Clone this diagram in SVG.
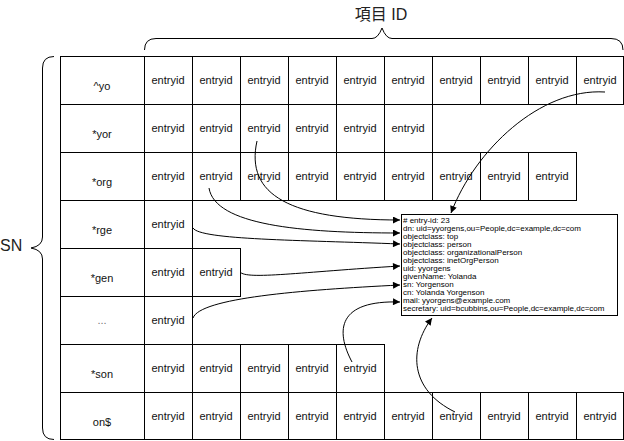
<svg xmlns="http://www.w3.org/2000/svg" width="624" height="441" viewBox="0 0 624 441">
<style>
.c{fill:#fff;stroke:#000;stroke-width:1}
.t{font-family:"Liberation Sans",Arial,sans-serif;font-size:11px;fill:#111;text-anchor:middle}
.e{font-family:"Liberation Sans",Arial,sans-serif;font-size:8px;fill:#000}
.br{fill:none;stroke:#000;stroke-width:1}
.cn{fill:none;stroke:#000;stroke-width:1;marker-end:url(#ah)}
</style>
<defs>
<marker id="ah" viewBox="0 0 10 10" refX="10" refY="5" markerWidth="10" markerHeight="7" markerUnits="userSpaceOnUse" orient="auto">
<path d="M0,0 L10,5 L0,10 Z" fill="#000"/>
</marker>
</defs>
<rect width="624" height="441" fill="#fff"/>

<g id="brace-top">
<path class="br" d="M144.5,50 Q144.5,38.5 156,38.5 L372,38.5 Q378,38.5 382,28 Q386,38.5 392,38.5 L611,38.5 Q623,38.5 623,50"/>
<text x="381" y="20" font-family="Liberation Sans,'Noto Sans CJK TC',sans-serif" font-size="16" fill="#222" text-anchor="middle">項目 ID</text>
</g>
<g id="brace-left">
<path class="br" d="M54,56.5 Q42.5,56.5 42.5,68 L42.5,237 Q42.5,246 31,248 Q42.5,250 42.5,259 L42.5,428 Q42.5,439.5 54,439.5"/>
<text x="0" y="251" font-family="Liberation Sans,sans-serif" font-size="16" fill="#222">SN</text>
</g>

<g id="row-yo">
<rect class="c" x="60.5" y="56.5" width="84" height="48"/>
<text class="t" x="102" y="90">^yo</text>
<rect class="c" x="144.5" y="56.5" width="48" height="48"/><rect class="c" x="192.5" y="56.5" width="48" height="48"/><rect class="c" x="240.5" y="56.5" width="48" height="48"/><rect class="c" x="288.5" y="56.5" width="48" height="48"/><rect class="c" x="336.5" y="56.5" width="48" height="48"/><rect class="c" x="384.5" y="56.5" width="48" height="48"/><rect class="c" x="432.5" y="56.5" width="48" height="48"/><rect class="c" x="480.5" y="56.5" width="48" height="48"/><rect class="c" x="528.5" y="56.5" width="48" height="48"/><rect class="c" x="576.5" y="56.5" width="47" height="48"/>
<text class="t" x="168" y="84">entryid</text><text class="t" x="216" y="84">entryid</text><text class="t" x="264" y="84">entryid</text><text class="t" x="312" y="84">entryid</text><text class="t" x="360" y="84">entryid</text><text class="t" x="408" y="84">entryid</text><text class="t" x="456" y="84">entryid</text><text class="t" x="504" y="84">entryid</text><text class="t" x="552" y="84">entryid</text><text class="t" x="600" y="84">entryid</text>
</g>

<g id="row-yor">
<rect class="c" x="60.5" y="104.5" width="84" height="48"/>
<text class="t" x="102" y="138">*yor</text>
<rect class="c" x="144.5" y="104.5" width="48" height="48"/><rect class="c" x="192.5" y="104.5" width="48" height="48"/><rect class="c" x="240.5" y="104.5" width="48" height="48"/><rect class="c" x="288.5" y="104.5" width="48" height="48"/><rect class="c" x="336.5" y="104.5" width="48" height="48"/><rect class="c" x="384.5" y="104.5" width="48" height="48"/>
<text class="t" x="168" y="132">entryid</text><text class="t" x="216" y="132">entryid</text><text class="t" x="264" y="132">entryid</text><text class="t" x="312" y="132">entryid</text><text class="t" x="360" y="132">entryid</text><text class="t" x="408" y="132">entryid</text>
</g>

<g id="row-org">
<rect class="c" x="60.5" y="152.5" width="84" height="48"/>
<text class="t" x="102" y="186">*org</text>
<rect class="c" x="144.5" y="152.5" width="48" height="48"/><rect class="c" x="192.5" y="152.5" width="48" height="48"/><rect class="c" x="240.5" y="152.5" width="48" height="48"/><rect class="c" x="288.5" y="152.5" width="48" height="48"/><rect class="c" x="336.5" y="152.5" width="48" height="48"/><rect class="c" x="384.5" y="152.5" width="48" height="48"/><rect class="c" x="432.5" y="152.5" width="48" height="48"/><rect class="c" x="480.5" y="152.5" width="48" height="48"/><rect class="c" x="528.5" y="152.5" width="48" height="48"/>
<text class="t" x="168" y="180">entryid</text><text class="t" x="216" y="180">entryid</text><text class="t" x="264" y="180">entryid</text><text class="t" x="312" y="180">entryid</text><text class="t" x="360" y="180">entryid</text><text class="t" x="408" y="180">entryid</text><text class="t" x="456" y="180">entryid</text><text class="t" x="504" y="180">entryid</text><text class="t" x="552" y="180">entryid</text>
</g>

<g id="row-rge">
<rect class="c" x="60.5" y="200.5" width="84" height="48"/>
<text class="t" x="102" y="234">*rge</text>
<rect class="c" x="144.5" y="200.5" width="48" height="48"/>
<text class="t" x="168" y="228">entryid</text>
</g>

<g id="row-gen">
<rect class="c" x="60.5" y="248.5" width="84" height="48"/>
<text class="t" x="102" y="282">*gen</text>
<rect class="c" x="144.5" y="248.5" width="48" height="48"/><rect class="c" x="192.5" y="248.5" width="48" height="48"/>
<text class="t" x="168" y="276">entryid</text><text class="t" x="216" y="276">entryid</text>
</g>

<g id="row-dots">
<rect class="c" x="60.5" y="296.5" width="84" height="48"/>
<text class="t" x="102" y="324" style="fill:#777">...</text>
<rect class="c" x="144.5" y="296.5" width="48" height="48"/>
<text class="t" x="168" y="324">entryid</text>
</g>

<g id="row-son">
<rect class="c" x="60.5" y="344.5" width="84" height="48"/>
<text class="t" x="102" y="378">*son</text>
<rect class="c" x="144.5" y="344.5" width="48" height="48"/><rect class="c" x="192.5" y="344.5" width="48" height="48"/><rect class="c" x="240.5" y="344.5" width="48" height="48"/><rect class="c" x="288.5" y="344.5" width="48" height="48"/><rect class="c" x="336.5" y="344.5" width="48" height="48"/>
<text class="t" x="168" y="372">entryid</text><text class="t" x="216" y="372">entryid</text><text class="t" x="264" y="372">entryid</text><text class="t" x="312" y="372">entryid</text><text class="t" x="360" y="372">entryid</text>
</g>

<g id="row-on">
<rect class="c" x="60.5" y="392.5" width="84" height="47"/>
<text class="t" x="102" y="426">on$</text>
<rect class="c" x="144.5" y="392.5" width="48" height="47"/><rect class="c" x="192.5" y="392.5" width="48" height="47"/><rect class="c" x="240.5" y="392.5" width="48" height="47"/><rect class="c" x="288.5" y="392.5" width="48" height="47"/><rect class="c" x="336.5" y="392.5" width="48" height="47"/><rect class="c" x="384.5" y="392.5" width="48" height="47"/><rect class="c" x="432.5" y="392.5" width="48" height="47"/><rect class="c" x="480.5" y="392.5" width="48" height="47"/><rect class="c" x="528.5" y="392.5" width="48" height="47"/><rect class="c" x="576.5" y="392.5" width="47" height="47"/>
<text class="t" x="168" y="420">entryid</text><text class="t" x="216" y="420">entryid</text><text class="t" x="264" y="420">entryid</text><text class="t" x="312" y="420">entryid</text><text class="t" x="360" y="420">entryid</text><text class="t" x="408" y="420">entryid</text><text class="t" x="456" y="420">entryid</text><text class="t" x="504" y="420">entryid</text><text class="t" x="552" y="420">entryid</text><text class="t" x="600" y="420">entryid</text>
</g>

<g id="entry">
<rect class="c" x="401.5" y="214.5" width="216" height="101"/>
<text class="e" x="403" y="223">
<tspan x="403" dy="0"># entry-id: 23</tspan>
<tspan x="403" dy="8">dn: uid=yyorgens,ou=People,dc=example,dc=com</tspan>
<tspan x="403" dy="8">objectclass: top</tspan>
<tspan x="403" dy="8">objectclass: person</tspan>
<tspan x="403" dy="8">objectclass: organizationalPerson</tspan>
<tspan x="403" dy="8">objectclass: inetOrgPerson</tspan>
<tspan x="403" dy="8">uid: yyorgens</tspan>
<tspan x="403" dy="8">givenName: Yolanda</tspan>
<tspan x="403" dy="8">sn: Yorgenson</tspan>
<tspan x="403" dy="8">cn: Yolanda Yorgenson</tspan>
<tspan x="403" dy="8">mail: yyorgens@example.com</tspan>
<tspan x="403" dy="8">secretary: uid=bcubbins,ou=People,dc=example,dc=com</tspan>
</text>
</g>

<g id="connectors">
<path class="cn" d="M605,92 C540,88 475,150 451,213"/>
<path class="cn" d="M257,141 C245,195 290,220 400,220"/>
<path class="cn" d="M209,188 C215,225 300,233 400,233"/>
<path class="cn" d="M193,228 C200,240 300,240 400,244"/>
<path class="cn" d="M240,272 C247,280 300,272 400,266"/>
<path class="cn" d="M193,318 C200,298 300,290 400,285"/>
<path class="cn" d="M352,362 C335,330 338,300 400,302"/>
<path class="cn" d="M455,412 C410,390 408,350 432,318"/>
</g>
</svg>
